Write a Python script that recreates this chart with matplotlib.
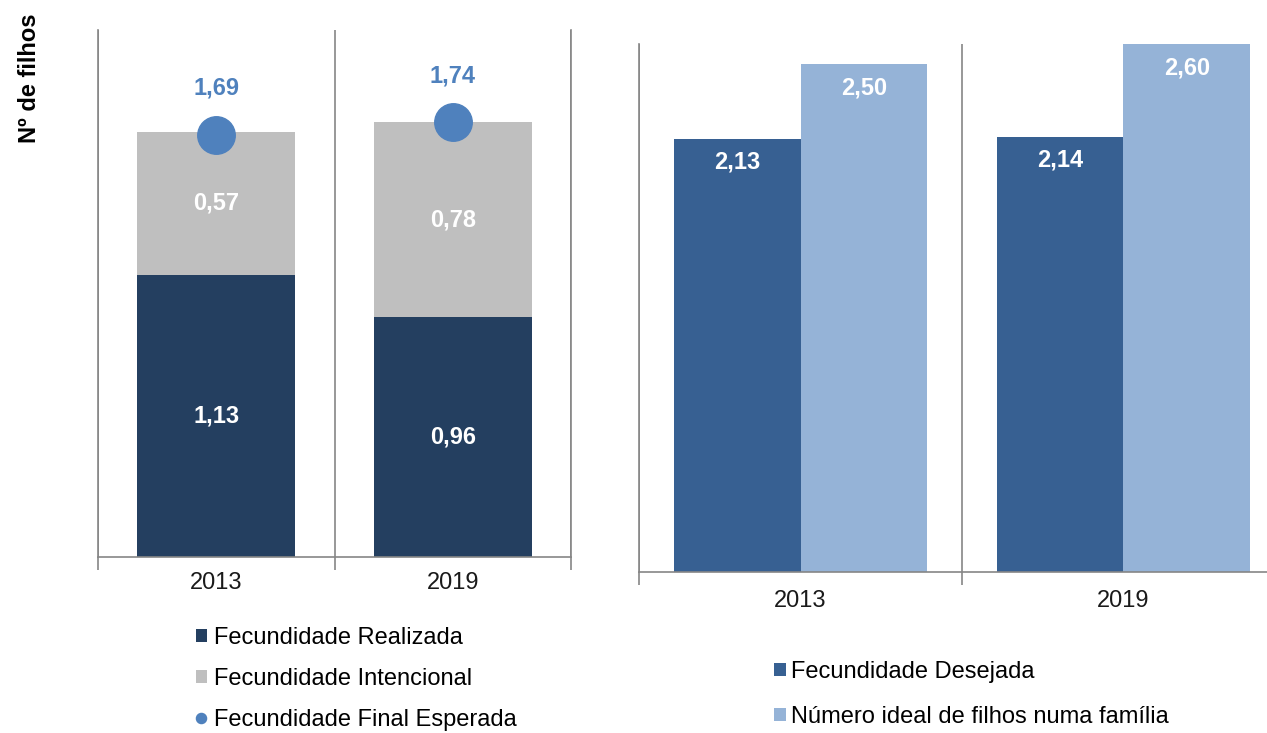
import matplotlib
matplotlib.use("Agg")
import matplotlib.pyplot as plt
import numpy as np

plt.rcParams['font.family'] = ['Liberation Sans', 'DejaVu Sans']

years = ["2013", "2019"]
realizada = [1.13, 0.96]
intencional = [0.57, 0.78]
final_esperada = [1.69, 1.74]
desejada = [2.13, 2.14]
ideal = [2.50, 2.60]

def fmt(v):
    return f"{v:.2f}".replace(".", ",")

c_real = "#243f60"
c_int = "#bfbfbf"
c_dot = "#4f81bd"
c_des = "#376092"
c_ideal = "#95b3d7"
c_axis = "#868686"

FS = 17

W, H = 1267, 733
fig = plt.figure(figsize=(W / 100, H / 100), dpi=100)

def px_axes(x0, y_top, x1, y_bot):
    return fig.add_axes([x0 / W, 1 - y_bot / H, (x1 - x0) / W, (y_bot - y_top) / H])

def style(ax, label_pad):
    ax.set_xlim(-0.5, 1.5)
    ax.set_xticks([0, 1])
    ax.set_xticklabels(years, fontsize=FS, color="#1a1a1a")
    ax.tick_params(axis='x', which='major', length=0, pad=label_pad)
    ax.set_xticks([-0.5, 0.5, 1.5], minor=True)
    ax.tick_params(axis='x', which='minor', length=9, direction='out', color=c_axis, width=1.2)
    ax.set_yticks([])
    ax.grid(axis='x', which='minor', color=c_axis, linewidth=1.2)
    ax.set_axisbelow(True)
    ax.spines['top'].set_visible(False)
    for s in ['left', 'right', 'bottom']:
        ax.spines[s].set_color(c_axis)
        ax.spines[s].set_linewidth(1.2)

# Left panel
ax1 = px_axes(98, 30, 571, 557)
x = np.arange(len(years))
b1 = ax1.bar(x, realizada, width=0.67, color=c_real, label="Fecundidade Realizada")
b2 = ax1.bar(x, intencional, width=0.67, bottom=realizada, color=c_int, label="Fecundidade Intencional")
dots, = ax1.plot(x, final_esperada, 'o', color=c_dot, markersize=27, linestyle='none',
                 label="Fecundidade Final Esperada")
ax1.set_ylim(0, 2.108)
style(ax1, 11)
for i in range(len(years)):
    ax1.text(x[i], realizada[i] / 2, fmt(realizada[i]), ha='center', va='center',
             color='white', fontsize=FS, fontweight='bold')
    ax1.text(x[i], realizada[i] + intencional[i] / 2, fmt(intencional[i]), ha='center', va='center',
             color='white', fontsize=FS, fontweight='bold')
    ax1.annotate(fmt(final_esperada[i]), (x[i], final_esperada[i]), xytext=(0, 46),
                 textcoords='offset pixels', ha='center', va='center',
                 color=c_dot, fontsize=FS, fontweight='bold')

fig.text(30 / W, 1 - 78 / H, "Nº de filhos", rotation=90, ha='center', va='center',
         fontsize=17, fontweight='bold')

leg1 = ax1.legend(handles=[b1, b2, dots], loc='upper left',
                  bbox_to_anchor=(196 / W, 1 - 627 / H), bbox_transform=fig.transFigure,
                  frameon=False, fontsize=FS, handlelength=0.45, handleheight=0.45,
                  handletextpad=0.3, labelspacing=0.8, markerscale=0.27, borderpad=0,
                  borderaxespad=0)

# Right panel
ax2 = px_axes(639, 44, 1285, 572)
bw = 0.393
r1 = ax2.bar(x - bw / 2, desejada, width=bw, color=c_des, label="Fecundidade Desejada")
r2 = ax2.bar(x + bw / 2, ideal, width=bw, color=c_ideal, label="Número ideal de filhos numa família")
ax2.set_ylim(0, 2.60)
style(ax2, 13)
for i in range(len(years)):
    ax2.annotate(fmt(desejada[i]), (x[i] - bw / 2, desejada[i]), xytext=(0, -23),
                 textcoords='offset pixels', ha='center', va='center',
                 color='white', fontsize=FS, fontweight='bold')
    ax2.annotate(fmt(ideal[i]), (x[i] + bw / 2, ideal[i]), xytext=(0, -24),
                 textcoords='offset pixels', ha='center', va='center',
                 color='white', fontsize=FS, fontweight='bold')

leg2 = ax2.legend(handles=[r1, r2], loc='upper left',
                  bbox_to_anchor=(774 / W, 1 - 661 / H), bbox_transform=fig.transFigure,
                  frameon=False, fontsize=FS, handlelength=0.5, handleheight=0.5,
                  handletextpad=0.2, labelspacing=0.97, borderpad=0, borderaxespad=0)

fig.savefig("out.png", dpi=100)
